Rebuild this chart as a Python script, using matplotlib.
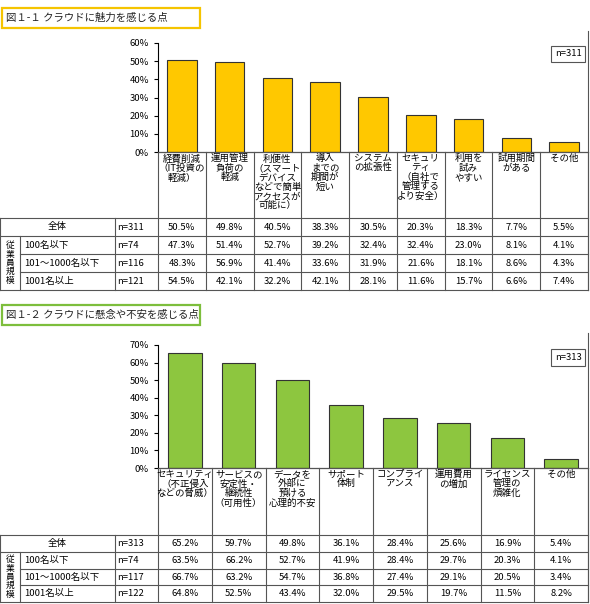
import matplotlib
matplotlib.use("Agg")
import matplotlib.pyplot as plt
from matplotlib.patches import Rectangle
from matplotlib.lines import Line2D

plt.rcParams['font.family'] = ['Noto Sans CJK JP', 'DejaVu Sans']

W, H = 590, 604

title1 = "図１-１ クラウドに魅力を感じる点"
cats1 = ["経費削減\n（IT投資の\n軽減）", "運用管理\n負荷の\n軽減", "利便性\n（スマート\nデバイス\nなどで簡単\nアクセスが\n可能に）",
         "導入\nまでの\n期間が\n短い", "システム\nの拡張性", "セキュリ\nティ\n（自社で\n管理する\nより安全）",
         "利用を\n試み\nやすい", "試用期間\nがある", "その他"]
total1 = [50.5, 49.8, 40.5, 38.3, 30.5, 20.3, 18.3, 7.7, 5.5]
rows1 = [("100名以下", "n=74", [47.3, 51.4, 52.7, 39.2, 32.4, 32.4, 23.0, 8.1, 4.1]),
         ("101～1000名以下", "n=116", [48.3, 56.9, 41.4, 33.6, 31.9, 21.6, 18.1, 8.6, 4.3]),
         ("1001名以上", "n=121", [54.5, 42.1, 32.2, 42.1, 28.1, 11.6, 15.7, 6.6, 7.4])]
n1 = "n=311"

title2 = "図１-２ クラウドに懸念や不安を感じる点"
cats2 = ["セキュリティ\n（不正侵入\nなどの脅威）", "サービスの\n安定性・\n継続性\n（可用性）", "データを\n外部に\n預ける\n心理的不安",
         "サポート\n体制", "コンプライ\nアンス", "運用費用\nの増加", "ライセンス\n管理の\n煩雑化", "その他"]
total2 = [65.2, 59.7, 49.8, 36.1, 28.4, 25.6, 16.9, 5.4]
rows2 = [("100名以下", "n=74", [63.5, 66.2, 52.7, 41.9, 28.4, 29.7, 20.3, 4.1]),
         ("101～1000名以下", "n=117", [66.7, 63.2, 54.7, 36.8, 27.4, 29.1, 20.5, 3.4]),
         ("1001名以上", "n=122", [64.8, 52.5, 43.4, 32.0, 29.5, 19.7, 11.5, 8.2])]
n2 = "n=313"

fig = plt.figure(figsize=(W / 100, H / 100), dpi=100)
FS = 6.8
LC = "#555555"


def fx(x):
    return x / W


def fy(y):
    return 1 - y / H


def hline(x0, x1, y):
    fig.add_artist(Line2D([fx(x0), fx(x1)], [fy(y), fy(y)], color=LC, lw=0.8))


def vline(x, y0, y1):
    fig.add_artist(Line2D([fx(x), fx(x)], [fy(y0), fy(y1)], color=LC, lw=0.8))


def panel(top, title, tcolor, cats, total, rows, n, color, ymax, ax_top, ax_bot, lab_bot, row_h):
    # title box
    fig.add_artist(Rectangle((fx(2), fy(top + 20)), fx(200) - fx(2), fy(top) - fy(top + 20),
                             transform=fig.transFigure, fc="white", ec=tcolor, lw=1.6))
    fig.text(fx(6), fy(top + 10), title, fontsize=7.5, va="center", color="#222222")

    x0, x1 = 158, 588
    ncol = len(cats)
    cw = (x1 - x0) / ncol
    ax = fig.add_axes([fx(x0), fy(ax_bot), fx(x1) - fx(x0), fy(ax_top) - fy(ax_bot)])
    ax.bar(range(ncol), total, width=0.62, color=color, edgecolor="#333333", lw=0.8)
    ax.set_xlim(-0.5, ncol - 0.5)
    ax.set_ylim(0, ymax)
    ax.set_yticks(range(0, ymax + 1, 10))
    ax.set_yticklabels([f"{v}%" for v in range(0, ymax + 1, 10)], fontsize=FS)
    ax.set_xticks([])
    ax.tick_params(axis="y", length=3, width=0.8)
    for s in ["top", "right"]:
        ax.spines[s].set_visible(False)
    ax.text(0.985, 0.9, n, transform=ax.transAxes, ha="right", va="center", fontsize=FS,
            bbox=dict(boxstyle="square,pad=0.4", fc="white", ec="#555555", lw=0.8))

    # category label row
    hline(x0, x1, ax_bot)
    for i, c in enumerate(cats):
        fig.text(fx(x0 + cw * (i + 0.5)), fy(ax_bot + 2), c, ha="center", va="top",
                 fontsize=FS, linespacing=1.05)
    # table
    t0 = lab_bot
    ybs = [t0 + row_h * k for k in range(5)]
    hline(0, x1, t0)
    hline(0, x1, ybs[1])
    for k in (2, 3):
        hline(20, x1, ybs[k])
    hline(0, x1, ybs[4])
    vline(0, t0, ybs[4])
    vline(20, ybs[1], ybs[4])
    vline(115, t0, ybs[4])
    for i in range(ncol + 1):
        vline(x0 + cw * i, ax_bot, ybs[4])
    vline(x1, ax_top - 12, ybs[4])
    fig.text(fx(57), fy(t0 + row_h / 2), "全体", ha="center", va="center", fontsize=FS)
    fig.text(fx(117), fy(t0 + row_h / 2), n, ha="left", va="center", fontsize=FS)
    for i, v in enumerate(total):
        fig.text(fx(x0 + cw * (i + 0.5)), fy(t0 + row_h / 2), f"{v:.1f}%", ha="center", va="center", fontsize=FS)
    fig.text(fx(10), fy(ybs[1] + 1.5 * row_h), "従\n業\n員\n規\n模", ha="center", va="center",
             fontsize=6.3, linespacing=0.95)
    for r, (lab, nn, vals) in enumerate(rows):
        yc = ybs[r + 1] + row_h / 2
        fig.text(fx(24), fy(yc), lab, ha="left", va="center", fontsize=FS)
        fig.text(fx(117), fy(yc), nn, ha="left", va="center", fontsize=FS)
        for i, v in enumerate(vals):
            fig.text(fx(x0 + cw * (i + 0.5)), fy(yc), f"{v:.1f}%", ha="center", va="center", fontsize=FS)


panel(8, title1, "#F5C400", cats1, total1, rows1, n1, "#FFC800", 60, 43, 152, 218, 18)
panel(305, title2, "#7DBE3C", cats2, total2, rows2, n2, "#8DC63F", 70, 345, 468, 535, 16.8)

fig.savefig("out.png", dpi=100)
